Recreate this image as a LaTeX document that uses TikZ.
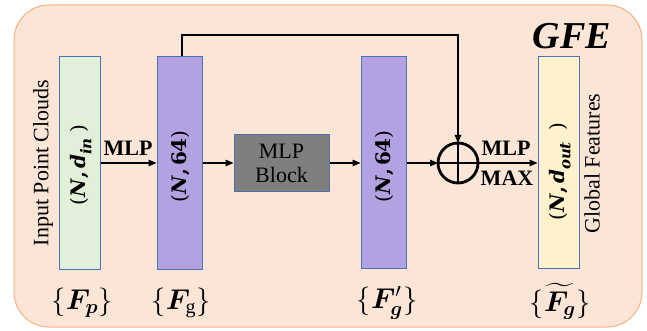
\RequirePackage{fix-cm}
\documentclass[tikz,border=0pt]{standalone}
\usepackage{amsmath,bm}
\usepackage{fontspec}
\setmainfont{Liberation Serif}
\newfontfamily\dvserif{DejaVu Serif}
\usetikzlibrary{arrows.meta}
\definecolor{outerfill}{HTML}{FBE5D6}
\definecolor{outerline}{HTML}{F4B183}
\definecolor{boxblue}{HTML}{4A72B0}
\definecolor{greenfill}{HTML}{E2F0D9}
\definecolor{purplefill}{HTML}{B2A2E1}
\definecolor{grayfill}{HTML}{7F7F7F}
\definecolor{yellowfill}{HTML}{FFF2CC}
\newcommand{\bi}[1]{\textbf{\textit{#1}}}
\newcommand{\mysub}[1]{\raisebox{-0.28em}{\fontsize{15}{15}\selectfont\bi{#1}}}
\begin{document}
\begin{tikzpicture}[x=1pt,y=-1pt,
  every node/.style={font=\fontsize{22}{26}\selectfont, inner sep=0pt},
  feat/.style={draw=boxblue, line width=1pt, minimum height=212pt},
  boxlabel/.style={rotate=90, font=\dvserif\fontsize{20}{22}\selectfont},
  arr/.style={-{Triangle[length=8pt,width=6.5pt]}, line width=1.2pt},
]
\useasboundingbox (0,0) rectangle (647,331);
\node[draw=outerline, fill=outerfill, line width=1pt, rounded corners=35pt,
      minimum width=628pt, minimum height=322pt] (frame) at (328,166) {};
\node[font=\fontsize{38}{40}\selectfont\bfseries\itshape] (gfe) at (572,36) {GFE};

% feature boxes
\node[feat, fill=greenfill, minimum width=41pt] (fp) at (79.5,163) {};
\node[feat, fill=purplefill, minimum width=45pt] (p1) at (179.5,163) {};
\node[draw=boxblue, line width=1pt, fill=grayfill, minimum width=95pt, minimum height=56pt,
      align=center, font=\fontsize{22}{24}\selectfont] (mlpb) at (281.5,163) {MLP\\Block};
\node[feat, fill=purplefill, minimum width=45pt, minimum height=211pt] (p2) at (383.5,162.5) {};
\node[feat, fill=yellowfill, minimum width=41pt, minimum height=211pt] (fy) at (558.5,162.5) {};

% labels inside boxes
\node[boxlabel] (lfp) at (81,165) {(\bi{N}\textbf{,}\hspace{0.15em}\bi{d}\mysub{in}\hspace{0.3em})};
\node[boxlabel] (lp1) at (180.5,166.5) {(\bi{N}\textbf{,}\hspace{0.15em}\textbf{64})};
\node[boxlabel] (lp2) at (384.5,166.5) {(\bi{N}\textbf{,}\hspace{0.15em}\textbf{64})};
\node[boxlabel] (lfy) at (560,171.5) {(\bi{N}\textbf{,}\hspace{0.15em}\bi{d}\mysub{out}\hspace{0.6em})};

% side texts
\node[rotate=90] (inp) at (43,163) {Input Point Clouds};
\node[rotate=90] (glob) at (592,163.5) {Global Features};

% oplus
\node[circle, draw, line width=2.8pt, minimum size=40pt, outer sep=0pt] (op) at (458,163) {};
\draw[line width=2.8pt] (op.north) -- (op.south) (op.west) -- (op.east);

% arrows
\draw[arr] (fp.east) -- (p1.west);
\node[font=\fontsize{22}{24}\selectfont\bfseries] (m1) at (128,148) {MLP};
\draw[arr] (p1.east) -- (mlpb.west);
\draw[arr] (mlpb.east) -- (p2.west |- mlpb.east);
\draw[arr] (p2.east |- op.west) -- (op.west);
\draw[arr] (op.east) -- (fy.west |- op.east);
\node[font=\fontsize{22}{24}\selectfont\bfseries] (m2) at (506,148) {MLP};
\node[font=\fontsize{22}{24}\selectfont\bfseries] (mx) at (507,178) {MAX};
\coordinate (sk) at (182,35);
\draw[arr] (p1.north -| sk) -- (sk) -| (op.north);

% bottom labels
\node (bfp) at (82,303) {\scalebox{1.3}{$\{\boldsymbol{F}_{\boldsymbol{p}}\}$}};
\node (bfg) at (181,303) {\scalebox{1.3}{$\{\boldsymbol{F}_{\mathrm{g}}\}$}};
\node (bfgp) at (387,303) {\scalebox{1.3}{$\{\boldsymbol{F}'_{\boldsymbol{g}}\}$}};
\node (bfgt) at (560,301) {\scalebox{1.3}{$\{\widetilde{\boldsymbol{F}_{\boldsymbol{g}}}\}$}};
\end{tikzpicture}
\end{document}
